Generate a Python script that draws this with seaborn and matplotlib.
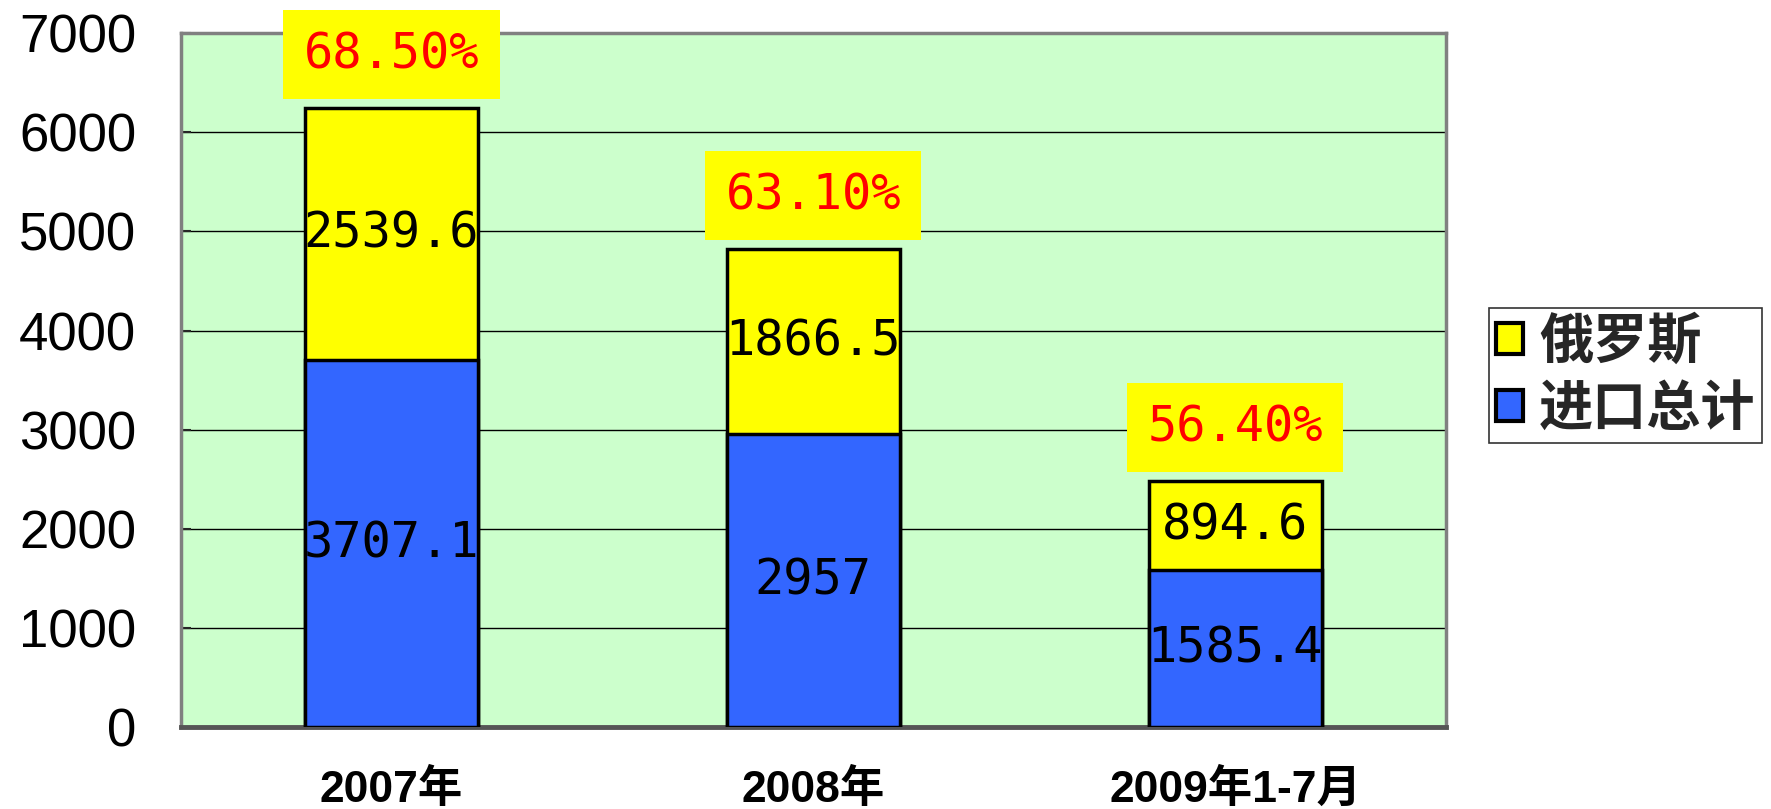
import matplotlib
matplotlib.use("Agg")
import matplotlib.pyplot as plt
import seaborn as sns
import pandas as pd
from matplotlib.patches import Patch

years = ["2007年", "2008年", "2009年1-7月"]
total_import = [3707.1, 2957, 1585.4]
russia = [2539.6, 1866.5, 894.6]
share = ["68.50%", "63.10%", "56.40%"]
yticks = [0, 1000, 2000, 3000, 4000, 5000, 6000, 7000]

df = pd.DataFrame({"year": years, "import": total_import, "russia": russia})
df["top"] = df["import"] + df["russia"]

sns.set_theme(style="white")
plt.rcParams["font.family"] = ["Liberation Sans", "Noto Sans CJK SC", "DejaVu Sans"]

fig = plt.figure(figsize=(17.71, 8.09), dpi=100)
ax = fig.add_axes([0.102, 0.1014, 0.7145, 0.8576])
ax.set_facecolor("#CCFFCC")

# stacked: yellow drawn to full height, blue over the lower part
sns.barplot(data=df, x="year", y="top", color="#FFFF00", saturation=1,
            width=0.41, edgecolor="black", linewidth=2.5, ax=ax, zorder=3)
sns.barplot(data=df, x="year", y="import", color="#3366FF", saturation=1,
            width=0.41, edgecolor="black", linewidth=2.5, ax=ax, zorder=4)

ax.set_ylim(0, 7000)
ax.set_xlim(-0.5, 2.5)
ax.set_yticks(yticks)
ax.set_yticklabels([str(v) for v in yticks], fontsize=38, color="black")
ax.yaxis.grid(True, color="black", linewidth=1)
ax.set_axisbelow(True)
ax.tick_params(axis="y", direction="in", length=7, width=1.5, pad=32, left=True)
ax.set_xticks(range(len(years)))
ax.set_xticklabels(years, fontsize=32, fontweight="bold", color="black",
                   family=["Liberation Sans", "Noto Sans CJK SC"])
ax.tick_params(axis="x", length=0, pad=30)
ax.set_xticks([0.5, 1.5], minor=True)
ax.tick_params(axis="x", which="minor", direction="in", length=11, width=1, color="#555555")
ax.set_xlabel("")
ax.set_ylabel("")
for s in ax.spines.values():
    s.set_color("#808080")
    s.set_linewidth(2.5)
ax.spines["bottom"].set_color("#555555")
ax.spines["bottom"].set_linewidth(3.5)

mono = "DejaVu Sans Mono"
for i in range(len(years)):
    ax.text(i, total_import[i] / 2, f"{total_import[i]:g}", ha="center", va="center",
            fontsize=35, family=mono, color="black", zorder=6)
    ax.text(i, total_import[i] + russia[i] / 2, f"{russia[i]:g}", ha="center", va="center",
            fontsize=35, family=mono, color="black", zorder=6)
    ax.text(i, df["top"][i] + 540, share[i], ha="center", va="center",
            fontsize=35, family=mono, color="#FF0000", zorder=6,
            bbox=dict(boxstyle="square,pad=0.42", facecolor="#FFFF00", edgecolor="none"))

handles = [Patch(facecolor="#FFFF00", edgecolor="black", linewidth=3, label="俄罗斯"),
           Patch(facecolor="#3366FF", edgecolor="black", linewidth=3, label="进口总计")]
leg = fig.legend(handles=handles, loc="upper left", bbox_to_anchor=(0.841, 0.619),
                 frameon=True, fancybox=False, handlelength=0.5,
                 handleheight=0.5, handletextpad=0.3, borderpad=0.12, labelspacing=0.22,
                 borderaxespad=0,
                 prop={"family": ["Noto Sans CJK SC"], "size": 39, "weight": "bold"})
leg.get_frame().set_edgecolor("black")
leg.get_frame().set_linewidth(1.2)

fig.savefig("out.png", dpi=100)
